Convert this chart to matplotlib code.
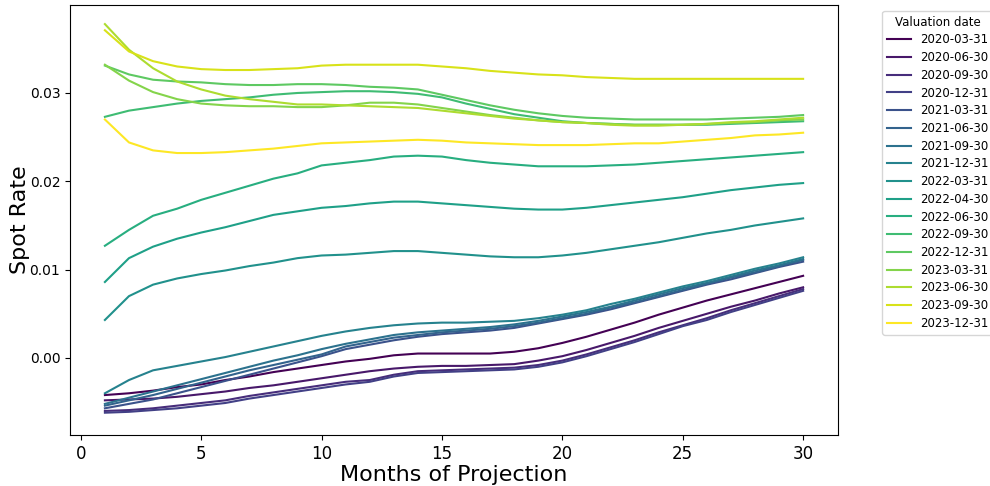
import numpy as np
import matplotlib
matplotlib.use("Agg")
import matplotlib.pyplot as plt

months = list(range(1, 31))
dates = ["2020-03-31", "2020-06-30", "2020-09-30", "2020-12-31",
         "2021-03-31", "2021-06-30", "2021-09-30", "2021-12-31",
         "2022-03-31", "2022-04-30", "2022-06-30", "2022-09-30",
         "2022-12-31", "2023-03-31", "2023-06-30", "2023-09-30",
         "2023-12-31"]

r_2020_03 = [-0.0042, -0.0040, -0.0037, -0.0033, -0.0030, -0.0025, -0.0021, -0.0016, -0.0012, -0.0008,
             -0.0004, -0.0001, 0.0003, 0.0005, 0.0005, 0.0005, 0.0005, 0.0007, 0.0011, 0.0017,
             0.0024, 0.0032, 0.0040, 0.0049, 0.0057, 0.0065, 0.0072, 0.0079, 0.0086, 0.0093]
r_2020_06 = [-0.0048, -0.0047, -0.0046, -0.0044, -0.0041, -0.0038, -0.0034, -0.0031, -0.0027, -0.0023,
             -0.0019, -0.0015, -0.0012, -0.0010, -0.0009, -0.0009, -0.0008, -0.0007, -0.0003, 0.0002,
             0.0009, 0.0017, 0.0025, 0.0034, 0.0042, 0.0050, 0.0058, 0.0065, 0.0073, 0.0080]
r_2020_09 = [-0.0060, -0.0059, -0.0057, -0.0054, -0.0051, -0.0048, -0.0043, -0.0039, -0.0035, -0.0031,
             -0.0027, -0.0025, -0.0019, -0.0015, -0.0014, -0.0013, -0.0012, -0.0011, -0.0008, -0.0003,
             0.0004, 0.0012, 0.0020, 0.0029, 0.0037, 0.0045, 0.0054, 0.0062, 0.0070, 0.0078]
r_2020_12 = [-0.0062, -0.0061, -0.0059, -0.0057, -0.0054, -0.0051, -0.0046, -0.0042, -0.0038, -0.0034,
             -0.0030, -0.0027, -0.0021, -0.0017, -0.0016, -0.0015, -0.0014, -0.0013, -0.0010, -0.0005,
             0.0002, 0.0010, 0.0018, 0.0027, 0.0036, 0.0043, 0.0052, 0.0060, 0.0068, 0.0076]
r_2021_03 = [-0.0057, -0.0052, -0.0047, -0.0040, -0.0033, -0.0026, -0.0019, -0.0012, -0.0005, 0.0002,
             0.0010, 0.0015, 0.0020, 0.0024, 0.0027, 0.0029, 0.0031, 0.0034, 0.0039, 0.0044,
             0.0049, 0.0055, 0.0062, 0.0069, 0.0076, 0.0083, 0.0089, 0.0096, 0.0103, 0.0109]
r_2021_06 = [-0.0054, -0.0048, -0.0042, -0.0035, -0.0028, -0.0021, -0.0014, -0.0008, -0.0002, 0.0004,
             0.0013, 0.0018, 0.0023, 0.0026, 0.0029, 0.0031, 0.0033, 0.0036, 0.0040, 0.0045,
             0.0050, 0.0057, 0.0063, 0.0070, 0.0077, 0.0084, 0.0091, 0.0097, 0.0104, 0.0111]
r_2021_09 = [-0.0052, -0.0045, -0.0038, -0.0031, -0.0024, -0.0017, -0.0010, -0.0003, 0.0003, 0.0010,
             0.0016, 0.0021, 0.0026, 0.0029, 0.0031, 0.0033, 0.0035, 0.0038, 0.0042, 0.0047,
             0.0052, 0.0058, 0.0065, 0.0072, 0.0079, 0.0085, 0.0092, 0.0099, 0.0105, 0.0112]
r_2021_12 = [-0.0040, -0.0025, -0.0014, -0.0009, -0.0004, 0.0001, 0.0007, 0.0013, 0.0019, 0.0025,
             0.0030, 0.0034, 0.0037, 0.0039, 0.0040, 0.0040, 0.0041, 0.0042, 0.0045, 0.0049,
             0.0054, 0.0061, 0.0067, 0.0074, 0.0081, 0.0087, 0.0094, 0.0101, 0.0107, 0.0114]
r_2022_03 = [0.0043, 0.0070, 0.0083, 0.0090, 0.0095, 0.0099, 0.0104, 0.0108, 0.0113, 0.0116,
             0.0117, 0.0119, 0.0121, 0.0121, 0.0119, 0.0117, 0.0115, 0.0114, 0.0114, 0.0116,
             0.0119, 0.0123, 0.0127, 0.0131, 0.0136, 0.0141, 0.0145, 0.0150, 0.0154, 0.0158]
r_2022_04 = [0.0086, 0.0113, 0.0126, 0.0135, 0.0142, 0.0148, 0.0155, 0.0162, 0.0166, 0.0170,
             0.0172, 0.0175, 0.0177, 0.0177, 0.0175, 0.0173, 0.0171, 0.0169, 0.0168, 0.0168,
             0.0170, 0.0173, 0.0176, 0.0179, 0.0182, 0.0186, 0.0190, 0.0193, 0.0196, 0.0198]
r_2022_06 = [0.0127, 0.0145, 0.0161, 0.0169, 0.0179, 0.0187, 0.0195, 0.0203, 0.0209, 0.0218,
             0.0221, 0.0224, 0.0228, 0.0229, 0.0228, 0.0224, 0.0221, 0.0219, 0.0217, 0.0217,
             0.0217, 0.0218, 0.0219, 0.0221, 0.0223, 0.0225, 0.0227, 0.0229, 0.0231, 0.0233]
r_2022_09 = [0.0273, 0.0280, 0.0284, 0.0288, 0.0291, 0.0293, 0.0295, 0.0298, 0.0300, 0.0301,
             0.0302, 0.0302, 0.0301, 0.0299, 0.0295, 0.0288, 0.0282, 0.0276, 0.0272, 0.0268,
             0.0266, 0.0265, 0.0264, 0.0264, 0.0264, 0.0264, 0.0265, 0.0266, 0.0267, 0.0268]
r_2022_12 = [0.0331, 0.0321, 0.0315, 0.0313, 0.0312, 0.0310, 0.0309, 0.0309, 0.0310, 0.0310,
             0.0309, 0.0307, 0.0306, 0.0304, 0.0298, 0.0292, 0.0286, 0.0281, 0.0277, 0.0274,
             0.0272, 0.0271, 0.0270, 0.0270, 0.0270, 0.0270, 0.0271, 0.0272, 0.0273, 0.0275]
r_2023_03 = [0.0332, 0.0314, 0.0301, 0.0293, 0.0288, 0.0286, 0.0285, 0.0285, 0.0284, 0.0284,
             0.0286, 0.0289, 0.0289, 0.0287, 0.0283, 0.0279, 0.0275, 0.0272, 0.0269, 0.0267,
             0.0266, 0.0265, 0.0264, 0.0264, 0.0264, 0.0265, 0.0266, 0.0267, 0.0269, 0.0270]
r_2023_06 = [0.0378, 0.0349, 0.0328, 0.0313, 0.0304, 0.0297, 0.0293, 0.0290, 0.0287, 0.0287,
             0.0286, 0.0285, 0.0284, 0.0283, 0.0280, 0.0277, 0.0274, 0.0271, 0.0269, 0.0267,
             0.0266, 0.0264, 0.0263, 0.0263, 0.0264, 0.0265, 0.0267, 0.0268, 0.0270, 0.0272]
r_2023_09 = [0.0371, 0.0347, 0.0336, 0.0330, 0.0327, 0.0326, 0.0326, 0.0327, 0.0328, 0.0331,
             0.0332, 0.0332, 0.0332, 0.0332, 0.0330, 0.0328, 0.0325, 0.0323, 0.0321, 0.0320,
             0.0318, 0.0317, 0.0316, 0.0316, 0.0316, 0.0316, 0.0316, 0.0316, 0.0316, 0.0316]
r_2023_12 = [0.0270, 0.0244, 0.0235, 0.0232, 0.0232, 0.0233, 0.0235, 0.0237, 0.0240, 0.0243,
             0.0244, 0.0245, 0.0246, 0.0247, 0.0246, 0.0244, 0.0243, 0.0242, 0.0241, 0.0241,
             0.0241, 0.0242, 0.0243, 0.0243, 0.0245, 0.0247, 0.0249, 0.0252, 0.0253, 0.0255]

series = [r_2020_03, r_2020_06, r_2020_09, r_2020_12, r_2021_03, r_2021_06,
          r_2021_09, r_2021_12, r_2022_03, r_2022_04, r_2022_06, r_2022_09,
          r_2022_12, r_2023_03, r_2023_06, r_2023_09, r_2023_12]

fig = plt.figure(figsize=(9.9, 4.86), dpi=100)
ax = fig.add_axes([0.0707, 0.105, 0.7758, 0.8847])
colors = plt.cm.viridis(np.linspace(0, 1, len(dates)))
for d, vals, c in zip(dates, series, colors):
    ax.plot(months, vals, color=c, lw=1.5, label=d)

ax.set_ylim(-0.00872, 0.03996)
ax.set_xlabel("Months of Projection", fontsize=16, labelpad=2)
ax.set_ylabel("Spot Rate", fontsize=16, labelpad=0)
ax.tick_params(axis="x", labelsize=12)
ax.tick_params(axis="y", labelsize=10)
ax.legend(title="Valuation date", fontsize=8.5, title_fontsize=8.5,
          labelspacing=0.4, loc="upper left", bbox_to_anchor=(1.05, 1.0))
fig.savefig("out.png", dpi=100)
